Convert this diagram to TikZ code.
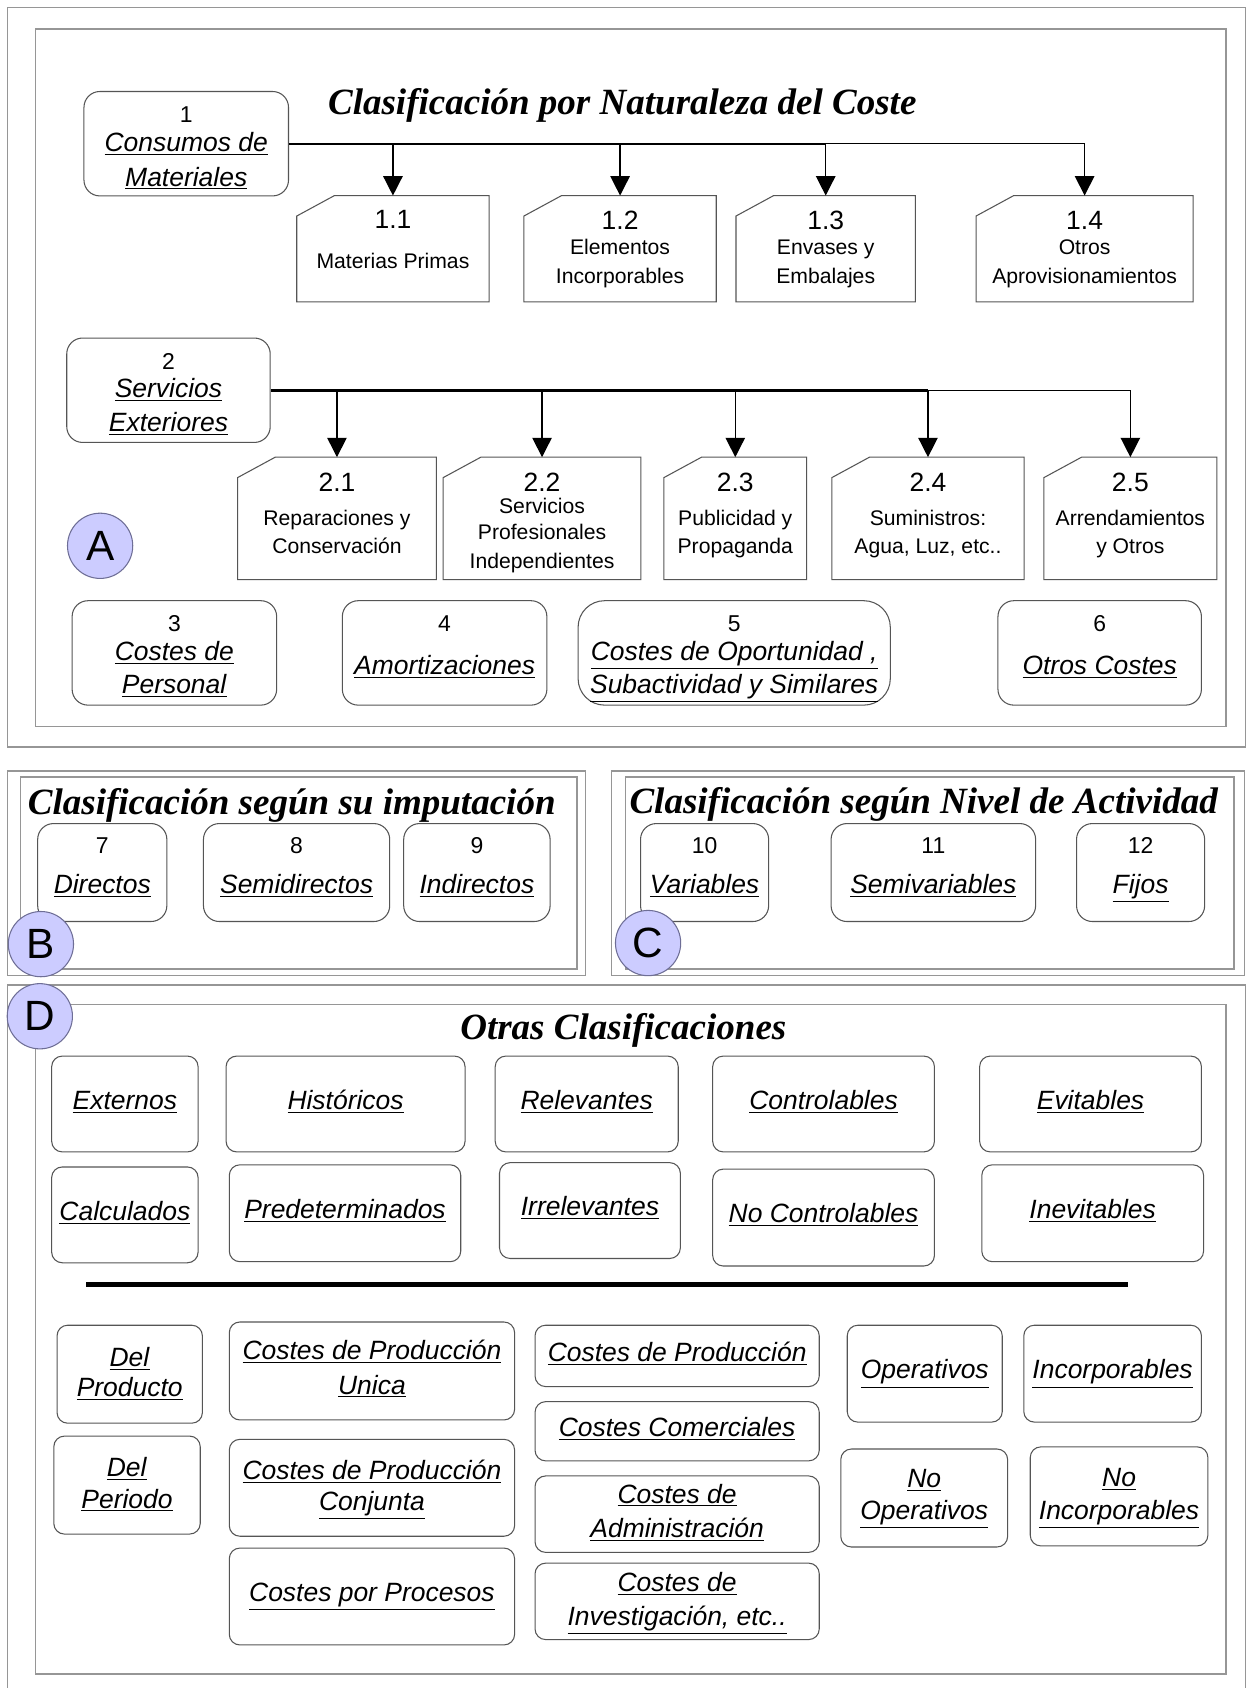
\documentclass[tikz,border=0pt]{standalone}
\usepackage{fontspec}
\setmainfont{Liberation Sans}
\newfontfamily\titlefont{Liberation Serif}
\usetikzlibrary{arrows.meta,calc,fit}

\definecolor{framegray}{RGB}{150,150,150}
\definecolor{boxgray}{RGB}{85,85,85}
\definecolor{badgefill}{RGB}{204,204,255}
\definecolor{badgeline}{RGB}{110,110,150}

% first baseline of the text block sits #1 below the box centre
\newcommand\blk[2]{\raisebox{-#1}[0pt][0pt]{\begin{tabular}[t]{@{}c@{}}#2\end{tabular}}}
\newcommand\lbl[1]{\underline{\textit{#1}}}
\newcommand\boxnum[1]{{\fontsize{13}{16}\selectfont #1}}
\newcommand\cardnum[1]{{\fontsize{15}{18}\selectfont #1}}

\begin{document}
\begin{tikzpicture}[x=0.6105pt, y=-0.6105pt,
  secframe/.style={draw=framegray, line width=0.9pt},
  rbox/.style={draw=boxgray, line width=0.6pt, rounded corners=9pt, inner sep=0pt, font=\fontsize{15}{19.5}\selectfont},
  dbox/.style={rbox, rounded corners=6pt},
  card/.style={inner sep=0pt, font=\fontsize{12}{16}\selectfont},
  cardline/.style={draw=boxgray, line width=0.6pt},
  ttl/.style={anchor=base, font=\titlefont\bfseries\itshape\fontsize{21}{25}\selectfont},
  badge/.style={circle, draw=badgeline, fill=badgefill, line width=0.6pt, minimum size=37pt, inner sep=0pt, font=\fontsize{24}{24}\selectfont},
  link/.style={line width=0.8pt},
  arr/.style={link, -{Triangle[width=11pt,length=11pt]}}]

\path[use as bounding box, fill=white] (0,0) rectangle (1159,1568);

% frames
\draw[secframe] (7,7) rectangle (1157,694);
\draw[secframe] (33,27) rectangle (1139,675);
\draw[secframe] (7,716) rectangle (544,906);
\draw[secframe] (19,722) rectangle (536,900);
\draw[secframe] (568,716) rectangle (1156,906);
\draw[secframe] (581,722) rectangle (1146,900);
\draw[secframe] (7,1570) -- (7,915) -- (1157,915) -- (1157,1570);
\draw[secframe] (33,933) rectangle (1139,1555);

% A: naturaleza
\node[ttl] (tnat) at (578,106.8) {Clasificación por Naturaleza del Coste};
\node[rbox, fit={(78,85)(268,182)}] (cons) {\blk{-12pt}{\boxnum{1}\\[-3pt]\lbl{Consumos de}\\\lbl{Materiales}}};
\node[card, fit={(276,182)(454,280)}] (mp) {\blk{-11.6pt}{\cardnum{1.1}\\[6.7pt]Materias Primas}};
\node[card, fit={(487,182)(665,280)}] (ei) {\blk{-11pt}{\cardnum{1.2}\\[-1.5pt]Elementos\\Incorporables}};
\node[card, fit={(684,182)(850,280)}] (ee) {\blk{-11pt}{\cardnum{1.3}\\[-1.5pt]Envases y\\Embalajes}};
\node[card, fit={(907,182)(1108,280)}] (oa) {\blk{-11pt}{\cardnum{1.4}\\[-1.5pt]Otros\\Aprovisionamientos}};

\node[rbox, fit={(62,314)(251,411)}] (serv) {\blk{-11.5pt}{\boxnum{2}\\[-4pt]\lbl{Servicios}\\\lbl{Exteriores}}};
\node[card, fit={(221,425)(405,538)}] (rep) {\blk{-15.2pt}{\cardnum{2.1}\\[3.4pt]Reparaciones y\\Conservación}};
\node[card, fit={(412,425)(595,538)}] (spi) {\blk{-15.2pt}{\cardnum{2.2}\\[-3.7pt]Servicios\\[-0.9pt]Profesionales\\Independientes}};
\node[card, fit={(617,425)(749,538)}] (pp) {\blk{-15.2pt}{\cardnum{2.3}\\[3.4pt]Publicidad y\\Propaganda}};
\node[card, fit={(773,425)(951,538)}] (sum) {\blk{-15.2pt}{\cardnum{2.4}\\[3.4pt]Suministros:\\Agua, Luz, etc..}};
\node[card, fit={(970,425)(1130,538)}] (arrend) {\blk{-15.2pt}{\cardnum{2.5}\\[3.4pt]Arrendamientos\\y Otros}};

\foreach \n in {mp,ei,ee,oa,rep,spi,pp,sum,arrend}
  \draw[cardline] ($(\n.north west)+(0,19)$) -- ($(\n.north west)+(35,0)$) -- (\n.north east) -- (\n.south east) -- (\n.south west) -- cycle;

\draw[link, line width=1.1pt] (cons.east) -- (cons.east -| ee.north);
\draw[link] (cons.east -| ee.north) -- (cons.east -| oa.north);
\foreach \t in {mp,ei,ee,oa}
  \draw[arr] (cons.east -| \t.north) -- (\t.north);

\draw[link, line width=1.8pt] (serv.east) -- (serv.east -| sum.north);
\draw[link] (serv.east -| sum.north) -- (serv.east -| arrend.north);
\foreach \t in {rep,spi,pp,sum,arrend}
  \draw[arr] (serv.east -| \t.north) -- (\t.north);

\node[badge] (bA) at (93,507) {A};

\node[rbox, fit={(67,558)(257,655)}] (pers) {\blk{-12.1pt}{\boxnum{3}\\[-3.2pt]\lbl{Costes de}\\[-0.5pt]\lbl{Personal}}};
\node[rbox, fit={(318,558)(508,655)}] (amort) {\blk{-12.1pt}{\boxnum{4}\\[5pt]\lbl{Amortizaciones}}};
\node[rbox, rounded corners=15pt, fit={(537,558)(827,655)}] (oport) {\blk{-12.1pt}{\boxnum{5}\\[-3.2pt]\lbl{Costes de Oportunidad ,}\\[-0.5pt]\lbl{Subactividad y Similares}}};
\node[rbox, fit={(927,558)(1116,655)}] (otros) {\blk{-12.1pt}{\boxnum{6}\\[5pt]\lbl{Otros Costes}}};

% B: imputacion
\node[ttl] (timp) at (271,756.9) {Clasificación según su imputación};
\node[rbox, fit={(35,765)(155,856)}] (dir) {\blk{-11pt}{\boxnum{7}\\[3.5pt]\lbl{Directos}}};
\node[rbox, fit={(189,765)(362,856)}] (semidir) {\blk{-11pt}{\boxnum{8}\\[3.5pt]\lbl{Semidirectos}}};
\node[rbox, fit={(375,765)(511,856)}] (indir) {\blk{-11pt}{\boxnum{9}\\[3.5pt]\lbl{Indirectos}}};
\node[badge] (bB) at (38,877) {B};

% C: nivel de actividad
\node[ttl] (tact) at (858,755.3) {Clasificación según Nivel de Actividad};
\node[rbox, fit={(595,765)(714,856)}] (var) {\blk{-11pt}{\boxnum{10}\\[3.5pt]\lbl{Variables}}};
\node[rbox, fit={(772,765)(962,856)}] (semivar) {\blk{-11pt}{\boxnum{11}\\[3.5pt]\lbl{Semivariables}}};
\node[rbox, fit={(1000,765)(1119,856)}] (fijos) {\blk{-11pt}{\boxnum{12}\\[3.5pt]\lbl{Fijos}}};
\node[badge] (bC) at (602,876) {C};

% D: otras
\node[ttl] (totr) at (579,965.8) {Otras Clasificaciones};
\node[badge] (bD) at (37,944) {D};

\node[dbox, fit={(48,981)(184,1070)}] (ext) {\blk{3pt}{\lbl{Externos}}};
\node[dbox, fit={(210,981)(432,1070)}] (hist) {\blk{3pt}{\lbl{Históricos}}};
\node[dbox, fit={(460,981)(630,1070)}] (rel) {\blk{3pt}{\lbl{Relevantes}}};
\node[dbox, fit={(662,981)(868,1070)}] (contr) {\blk{3pt}{\lbl{Controlables}}};
\node[dbox, fit={(910,981)(1116,1070)}] (evit) {\blk{3pt}{\lbl{Evitables}}};
\node[dbox, fit={(48,1084)(184,1173)}] (calc) {\blk{3pt}{\lbl{Calculados}}};
\node[dbox, fit={(213,1082)(428,1172)}] (pred) {\blk{3pt}{\lbl{Predeterminados}}};
\node[dbox, fit={(464,1080)(632,1169)}] (irrel) {\blk{3pt}{\lbl{Irrelevantes}}};
\node[dbox, fit={(662,1086)(868,1176)}] (nocontr) {\blk{3pt}{\lbl{No Controlables}}};
\node[dbox, fit={(912,1082)(1118,1172)}] (inev) {\blk{3pt}{\lbl{Inevitables}}};

\draw[line width=3pt] (80,1193) -- (1048,1193);

\node[dbox, fit={(53,1231)(188,1322)}] (delprod) {\blk{-4.1pt}{\lbl{Del}\\[-2.8pt]\lbl{Producto}}};
\node[dbox, fit={(50,1334)(186,1425)}] (delper) {\blk{-4.9pt}{\lbl{Del}\\[-1.6pt]\lbl{Periodo}}};
\node[dbox, fit={(213,1228)(478,1319)}] (produn) {\blk{-6.4pt}{\lbl{Costes de Producción}\\\lbl{Unica}}};
\node[dbox, fit={(213,1337)(478,1427)}] (prodconj) {\blk{-4.6pt}{\lbl{Costes de Producción}\\[-2pt]\lbl{Conjunta}}};
\node[dbox, fit={(213,1438)(478,1528)}] (proc) {\blk{3pt}{\lbl{Costes por Procesos}}};
\node[dbox, fit={(497,1231)(761,1288)}] (prod) {\blk{3pt}{\lbl{Costes de Producción}}};
\node[dbox, fit={(497,1302)(761,1357)}] (com) {\blk{3pt}{\lbl{Costes Comerciales}}};
\node[dbox, fit={(497,1371)(761,1442)}] (adm) {\blk{-6.3pt}{\lbl{Costes de}\\\lbl{Administración}}};
\node[dbox, fit={(497,1452)(761,1523)}] (inv) {\blk{-5.7pt}{\lbl{Costes de}\\\lbl{Investigación, etc..}}};
\node[dbox, fit={(787,1231)(931,1321)}] (oper) {\blk{3pt}{\lbl{Operativos}}};
\node[dbox, fit={(951,1231)(1116,1321)}] (incorp) {\blk{3pt}{\lbl{Incorporables}}};
\node[dbox, fit={(781,1346)(936,1437)}] (nooper) {\blk{-5.7pt}{\lbl{No}\\[-1.5pt]\lbl{Operativos}}};
\node[dbox, fit={(957,1344)(1122,1436)}] (noincorp) {\blk{-5.7pt}{\lbl{No}\\[-0.5pt]\lbl{Incorporables}}};
\end{tikzpicture}
\end{document}
